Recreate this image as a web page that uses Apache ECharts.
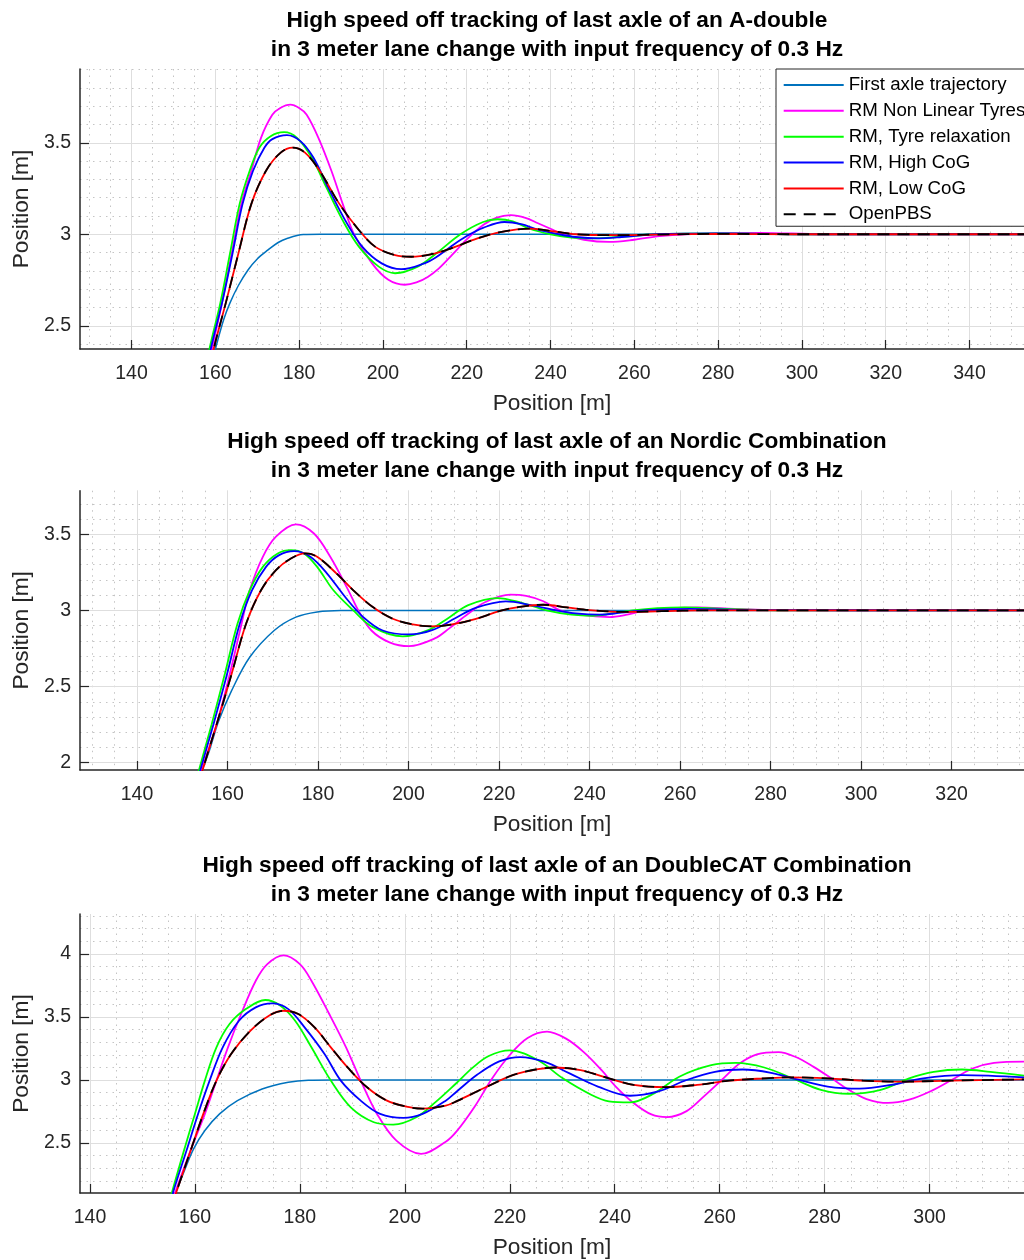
<!DOCTYPE html>
<html>
<head>
<meta charset="utf-8">
<script src="https://cdn.jsdelivr.net/npm/echarts@6/dist/echarts.min.js"></script>
<style>
html,body{margin:0;padding:0;background:#fff;}
#chart{width:1024px;height:1260px;}
</style>
</head>
<body>
<div id="chart"></div>
<script>
// ---------- names ----------
const seriesNames = ['First axle trajectory','RM Non Linear Tyres','RM, Tyre relaxation','RM, High CoG','RM, Low CoG','OpenPBS'];
const titles = [
  'High speed off tracking of last axle of an A-double\nin 3 meter lane change with input frequency of 0.3 Hz',
  'High speed off tracking of last axle of an Nordic Combination\nin 3 meter lane change with input frequency of 0.3 Hz',
  'High speed off tracking of last axle of an DoubleCAT Combination\nin 3 meter lane change with input frequency of 0.3 Hz'
];

// ---------- tick labels ----------
const xTicks1 = [140,160,180,200,220,240,260,280,300,320,340];
const yTicks1 = [2.5,3,3.5];
const xTicks2 = [140,160,180,200,220,240,260,280,300,320];
const yTicks2 = [2,2.5,3,3.5];
const xTicks3 = [140,160,180,200,220,240,260,280,300];
const yTicks3 = [2.5,3,3.5,4];

// ---------- axis ranges ----------
const xRange1 = [127.7, 353];  const yRange1 = [2.373, 3.903];
const xRange2 = [127.4, 336];  const yRange2 = [1.952, 3.786];
const xRange3 = [138.1, 318];  const yRange3 = [2.104, 4.316];

// ---------- panel 1 : A-double ----------
const firstAxle1 = [[159.0,2.29],[160.0,2.373],[162,2.534],[163.5,2.625],[165.5,2.72],[167.8,2.805],[170,2.865],[172.5,2.913],[175,2.955],[177.1,2.977],[181,2.998],[185,3.0],[353,3.0]];
const nonLinear1 = [[158.5,2.28],[159.2,2.373],[161.6,2.625],[163.9,2.895],[166.2,3.166],[168.6,3.347],[170.9,3.527],[173.6,3.653],[175.5,3.69],[177.9,3.708],[180,3.69],[181.8,3.653],[184.6,3.527],[187.7,3.347],[190.4,3.166],[193.1,3.0],[197.4,2.841],[201.3,2.751],[205.2,2.724],[208,2.737],[210.7,2.767],[213.3,2.812],[216.5,2.887],[220,2.972],[224,3.052],[227,3.09],[230.5,3.104],[234,3.09],[237,3.06],[240,3.03],[243,3.0],[248,2.97],[254,2.958],[260,2.97],[266,2.99],[272,3.0],[290,3.008],[305,3.0],[353,3.0]];
const relax1 = [[158.0,2.28],[158.6,2.373],[161.2,2.625],[163.5,2.895],[165.8,3.166],[168.2,3.347],[170.5,3.473],[173.2,3.536],[176.4,3.558],[179.5,3.527],[183,3.419],[186.5,3.256],[190.4,3.076],[194.3,2.931],[199,2.823],[202.9,2.787],[208.3,2.823],[213,2.9],[218.5,3.0],[223.9,3.067],[227.4,3.082],[231,3.07],[235,3.03],[240,3.0],[245,2.982],[250,2.978],[256,2.985],[265,3.0],[280,3.005],[300,3.0],[353,3.0]];
const highCoG1 = [[158.3,2.28],[158.9,2.373],[161.6,2.625],[164.1,2.895],[166.5,3.166],[169,3.347],[171.7,3.473],[173.6,3.52],[177.1,3.542],[180.3,3.509],[183.4,3.419],[186.9,3.256],[191,3.076],[195.1,2.931],[199.7,2.841],[204.4,2.809],[209.9,2.841],[212.6,2.873],[216.1,2.931],[220,2.99],[223.9,3.035],[229,3.067],[233,3.055],[237,3.025],[242,3.0],[246,2.985],[251.6,2.978],[257,2.985],[265,3.0],[280,3.005],[300,3.0],[353,3.0]];
const lowCoG1 = [[158.9,2.28],[159.6,2.373],[162.5,2.625],[165.5,2.895],[168.6,3.166],[172.1,3.347],[175.6,3.446],[178.5,3.473],[181.4,3.446],[184.9,3.347],[189.6,3.166],[194.3,3.022],[198.2,2.931],[202.9,2.886],[206.8,2.877],[211.4,2.89],[216.1,2.922],[222.4,2.976],[228,3.012],[235.2,3.031],[241,3.015],[246,3.0],[255,2.995],[265,2.998],[280,3.002],[300,3.0],[353,3.0]];
const openPBS1 = [[158.9,2.28],[159.6,2.373],[162.5,2.625],[165.5,2.895],[168.6,3.166],[172.1,3.347],[175.6,3.446],[178.5,3.473],[181.4,3.446],[184.9,3.347],[189.6,3.166],[194.3,3.022],[198.2,2.931],[202.9,2.886],[206.8,2.877],[211.4,2.89],[216.1,2.922],[222.4,2.976],[228,3.012],[235.2,3.031],[241,3.015],[246,3.0],[255,2.995],[265,2.998],[280,3.002],[300,3.0],[353,3.0]];

// ---------- panel 2 : Nordic Combination ----------
const firstAxle2 = [[153.5,1.88],[154.4,1.952],[156,2.08],[158,2.27],[160.9,2.473],[164.9,2.692],[170.3,2.868],[175.1,2.956],[179.8,2.99],[185,3.0],[336,3.0]];
const nonLinear2 = [[153.6,1.87],[154.3,1.952],[157.6,2.253],[160.5,2.582],[163.1,2.912],[164.9,3.132],[167.8,3.352],[170.7,3.484],[175.1,3.565],[179.1,3.505],[182.7,3.352],[186.7,3.132],[188.9,3.0],[191.8,2.868],[195.8,2.79],[200.1,2.765],[205.8,2.816],[209,2.882],[213.1,2.976],[217,3.055],[222.5,3.103],[226,3.095],[229.8,3.06],[233.5,3.0],[238,2.97],[244.4,2.956],[248,2.97],[252.4,3.0],[258,3.015],[264,3.02],[272,3.01],[285,3.0],[336,3.0]];
const relax2 = [[153.0,1.87],[153.7,1.952],[156.5,2.253],[159.4,2.582],[162.2,2.912],[164.9,3.132],[167.8,3.286],[171.1,3.374],[174,3.396],[176.9,3.374],[179.8,3.286],[183.4,3.132],[187.8,3.0],[192.1,2.89],[198.7,2.829],[204.5,2.872],[208.9,2.952],[213.2,3.035],[219.6,3.081],[225,3.05],[230.5,3.0],[236,2.972],[240.7,2.965],[245,2.98],[249.5,3.0],[255,3.015],[261,3.02],[270,3.01],[285,3.0],[336,3.0]];
const highCoG2 = [[153.3,1.87],[154.0,1.952],[156.9,2.253],[159.9,2.582],[162.7,2.912],[165.4,3.132],[168.5,3.286],[171.4,3.363],[174.7,3.389],[178.3,3.352],[182,3.242],[186,3.088],[190,2.956],[194.3,2.868],[200.1,2.842],[205.2,2.87],[210.3,2.948],[214.7,3.015],[221.5,3.059],[227,3.035],[232.7,3.0],[237,2.98],[242.2,2.972],[247,2.985],[252,3.0],[262,3.01],[275,3.003],[336,3.0]];
const lowCoG2 = [[153.8,1.87],[154.5,1.952],[157.6,2.253],[160.9,2.582],[164.1,2.912],[167.4,3.132],[170.7,3.264],[174,3.341],[177.2,3.374],[179.8,3.352],[184.1,3.242],[187.8,3.132],[192.1,3.022],[196.5,2.945],[200.9,2.908],[205.2,2.895],[209.6,2.908],[214.7,2.943],[220.4,2.998],[225,3.025],[229.8,3.037],[235,3.02],[240.7,3.0],[248,2.99],[256,2.995],[265,3.0],[336,3.0]];
const openPBS2 = [[153.8,1.87],[154.5,1.952],[157.6,2.253],[160.9,2.582],[164.1,2.912],[167.4,3.132],[170.7,3.264],[174,3.341],[177.2,3.374],[179.8,3.352],[184.1,3.242],[187.8,3.132],[192.1,3.022],[196.5,2.945],[200.9,2.908],[205.2,2.895],[209.6,2.908],[214.7,2.943],[220.4,2.998],[225,3.025],[229.8,3.037],[235,3.02],[240.7,3.0],[248,2.99],[256,2.995],[265,3.0],[336,3.0]];

// ---------- panel 3 : DoubleCAT Combination ----------
const firstAxle3 = [[155.3,2.0],[156.3,2.104],[157.8,2.26],[159.7,2.45],[161.9,2.599],[164.7,2.731],[168.1,2.836],[172.8,2.929],[177.8,2.982],[181.6,2.998],[186,3.0],[318,3.0]];
const nonLinear3 = [[155.5,2.0],[156.2,2.104],[159.4,2.467],[161.9,2.731],[164.1,2.995],[166.3,3.259],[168.8,3.523],[171.6,3.787],[173.8,3.919],[176.9,3.988],[180,3.919],[182.2,3.787],[185.6,3.523],[188.8,3.259],[191.6,2.995],[194.7,2.731],[198.4,2.519],[203.1,2.414],[207.8,2.51],[209.9,2.594],[213.3,2.788],[216.6,3.01],[220,3.198],[223.4,3.333],[227.1,3.383],[230.8,3.326],[234.1,3.221],[237.5,3.078],[240.2,2.948],[243.6,2.818],[247,2.727],[250,2.706],[253.7,2.753],[257,2.87],[260.4,3.0],[263.8,3.13],[267.1,3.203],[271.2,3.221],[274.5,3.182],[277.9,3.104],[281.3,3.013],[284.6,2.922],[288,2.849],[292.1,2.818],[296.1,2.844],[300.1,2.909],[304.2,3.0],[308.2,3.091],[312.3,3.135],[318,3.145]];
const relax3 = [[155.0,2.0],[155.6,2.104],[158.1,2.467],[160,2.731],[161.9,2.995],[164.1,3.259],[166.6,3.444],[169.7,3.562],[173.4,3.634],[176.3,3.589],[179.1,3.47],[182.2,3.259],[185.9,2.995],[189.7,2.783],[194.1,2.665],[197.8,2.646],[202.2,2.704],[205.9,2.826],[209.7,2.97],[213,3.1],[216,3.19],[220,3.234],[225.4,3.156],[230.1,3.013],[235.5,2.883],[238.9,2.831],[242.9,2.823],[247.6,2.896],[252.3,3.026],[258.4,3.117],[263.1,3.135],[268.5,3.099],[273.9,3.013],[279.3,2.922],[284.6,2.891],[290.7,2.922],[296.1,3.013],[300.8,3.065],[306.2,3.083],[311.6,3.065],[318,3.035]];
const highCoG3 = [[155.2,2.0],[155.8,2.104],[158.6,2.467],[160.6,2.731],[162.8,2.995],[165.3,3.259],[168.4,3.47],[171.6,3.576],[174.7,3.607],[177.8,3.562],[180.9,3.417],[184.7,3.206],[187.8,2.995],[191.6,2.836],[195.3,2.731],[199.7,2.699],[203.4,2.731],[207.8,2.836],[209.9,2.909],[213.9,3.045],[218,3.147],[222,3.182],[226.7,3.143],[231.4,3.052],[236.8,2.948],[242.9,2.875],[248.3,2.909],[253.7,3.0],[259.1,3.065],[264.4,3.083],[269.8,3.057],[275.2,3.0],[280.6,2.948],[286.7,2.932],[292.7,2.961],[298.8,3.013],[306.2,3.039],[318,3.021]];
const lowCoG3 = [[155.6,2.0],[156.4,2.104],[159.4,2.467],[161.6,2.731],[164.1,2.995],[166.9,3.206],[170.6,3.391],[174.1,3.51],[176.9,3.549],[179.7,3.523],[182.8,3.417],[185.9,3.259],[189.1,3.1],[192.8,2.942],[196.6,2.836],[200.3,2.789],[203.4,2.773],[207.8,2.797],[209.9,2.832],[215.3,2.94],[220.7,3.04],[225.4,3.087],[228.8,3.099],[233.5,3.078],[238.9,3.013],[243.6,2.961],[249.6,2.943],[255.7,2.961],[261.8,2.995],[268.5,3.013],[273.2,3.021],[280.6,3.013],[287.3,2.995],[294.1,2.987],[304.2,2.995],[318,3.005]];
const openPBS3 = [[155.6,2.0],[156.4,2.104],[159.4,2.467],[161.6,2.731],[164.1,2.995],[166.9,3.206],[170.6,3.391],[174.1,3.51],[176.9,3.549],[179.7,3.523],[182.8,3.417],[185.9,3.259],[189.1,3.1],[192.8,2.942],[196.6,2.836],[200.3,2.789],[203.4,2.773],[207.8,2.797],[209.9,2.832],[215.3,2.94],[220.7,3.04],[225.4,3.087],[228.8,3.099],[233.5,3.078],[238.9,3.013],[243.6,2.961],[249.6,2.943],[255.7,2.961],[261.8,2.995],[268.5,3.013],[273.2,3.021],[280.6,3.013],[287.3,2.995],[294.1,2.987],[304.2,2.995],[318,3.005]];

// ---------- build ----------
const panels = [
  {top:69,    height:280,   title:titles[0], xTicks:xTicks1, yTicks:yTicks1, xr:xRange1, yr:yRange1,
   data:[firstAxle1,nonLinear1,relax1,highCoG1,lowCoG1,openPBS1]},
  {top:490.7, height:279.3, title:titles[1], xTicks:xTicks2, yTicks:yTicks2, xr:xRange2, yr:yRange2,
   data:[firstAxle2,nonLinear2,relax2,highCoG2,lowCoG2,openPBS2]},
  {top:914,   height:279.3, title:titles[2], xTicks:xTicks3, yTicks:yTicks3, xr:xRange3, yr:yRange3,
   data:[firstAxle3,nonLinear3,relax3,highCoG3,lowCoG3,openPBS3]}
];
const colors = ['#0072BD','#FF00FF','#00FF00','#0000FF','#FF0000','#000000'];
const widths = [1.5,1.8,1.8,1.8,1.8,1.8];
const FONT = 'Liberation Sans, Arial, Helvetica, sans-serif';
const AX = '#262626';

function minorValues(lo, hi, step) {
  const out = [];
  const start = Math.ceil(lo / step - 1e-9);
  const end = Math.floor(hi / step + 1e-9);
  for (let k = start; k <= end; k++) out.push(+(k * step).toFixed(4));
  return out;
}

const grid = [], xAxis = [], yAxis = [], series = [], title = [];
panels.forEach((p, i) => {
  grid.push({left:80, right:-10, top:p.top, height:p.height, containLabel:false});
  title.push({
    text:p.title, left:557, top:p.top - 63, textAlign:'center', padding:0,
    textStyle:{fontFamily:FONT, fontSize:22.7, fontWeight:'bold', color:'#000', lineHeight:29}
  });
  // major x
  xAxis.push({
    type:'value', gridIndex:i, min:p.xr[0], max:p.xr[1],
    name:'Position [m]', nameLocation:'middle', nameGap:43,
    nameTextStyle:{fontFamily:FONT, fontSize:22.7, color:AX},
    axisLine:{show:true, onZero:false, lineStyle:{color:AX, width:1.5}},
    axisTick:{show:true, inside:true, length:9, customValues:p.xTicks, lineStyle:{color:AX, width:1.2}},
    axisLabel:{show:true, customValues:p.xTicks, margin:15, fontFamily:FONT, fontSize:19.5, color:AX},
    splitLine:{show:true, lineStyle:{color:'#dedede', width:1}},
    z:1
  });
  // minor x
  xAxis.push({
    type:'value', gridIndex:i, min:p.xr[0], max:p.xr[1],
    axisLine:{show:false}, axisLabel:{show:false},
    axisTick:{show:false, customValues:minorValues(p.xr[0], p.xr[1], 5)},
    splitLine:{show:true, lineStyle:{color:'#c4c4c4', width:1, type:[1.5,5]}},
    z:0
  });
  // major y
  yAxis.push({
    type:'value', gridIndex:i, min:p.yr[0], max:p.yr[1],
    name:'Position [m]', nameLocation:'middle', nameGap:44,
    nameTextStyle:{fontFamily:FONT, fontSize:22.7, color:AX},
    axisLine:{show:true, onZero:false, lineStyle:{color:AX, width:1.5}},
    axisTick:{show:true, inside:true, length:9, customValues:p.yTicks, lineStyle:{color:AX, width:1.2}},
    axisLabel:{show:true, customValues:p.yTicks, margin:9, fontFamily:FONT, fontSize:19.5, color:AX},
    splitLine:{show:true, lineStyle:{color:'#dedede', width:1}},
    z:1
  });
  // minor y
  yAxis.push({
    type:'value', gridIndex:i, min:p.yr[0], max:p.yr[1],
    axisLine:{show:false}, axisLabel:{show:false},
    axisTick:{show:false, customValues:minorValues(p.yr[0], p.yr[1], 0.1)},
    splitLine:{show:true, lineStyle:{color:'#c4c4c4', width:1, type:[1.5,5]}},
    z:0
  });
  p.data.forEach((d, k) => {
    series.push({
      type:'line', name:seriesNames[k], xAxisIndex:2*i, yAxisIndex:2*i,
      data:d, symbol:'none', smooth:0.35, clip:true,
      lineStyle:{color:colors[k], width:widths[k], type:(k === 5 ? [12,8] : 'solid')},
      itemStyle:{color:colors[k]},
      z:2 + k, silent:true
    });
  });
});

const chart = echarts.init(document.getElementById('chart'), null, {renderer:'canvas'});
chart.setOption({
  animation:false,
  backgroundColor:'#fff',
  title:title,
  grid:grid,
  xAxis:xAxis,
  yAxis:yAxis,
  legend:{
    show:true, orient:'vertical', left:776, top:69,
    padding:[6,12,2,6.7], itemGap:5.85, itemWidth:60, itemHeight:20,
    backgroundColor:'#fff', borderColor:AX, borderWidth:1, borderRadius:0,
    itemStyle:{opacity:0}, selectedMode:false,
    textStyle:{fontFamily:FONT, fontSize:18.7, color:'#000', lineHeight:20},
    data:seriesNames, z:20
  },
  series:series
});
</script>
</body>
</html>
